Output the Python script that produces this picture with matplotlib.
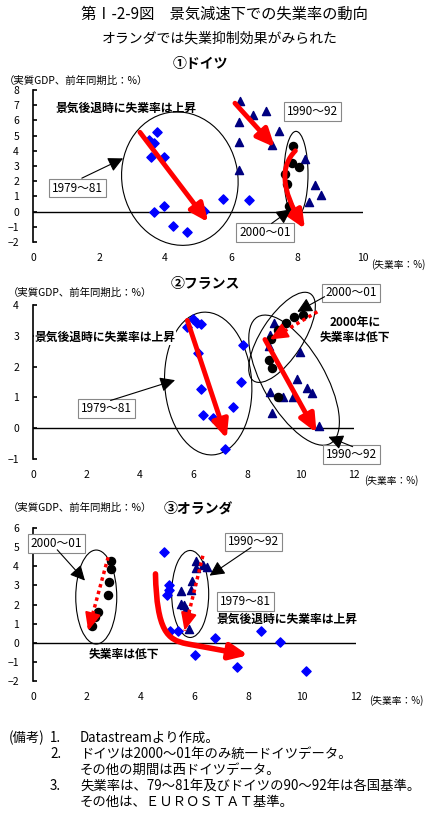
import matplotlib
matplotlib.use("Agg")
import matplotlib.pyplot as plt
from matplotlib.patches import Ellipse, FancyArrowPatch
from matplotlib.path import Path
from matplotlib.transforms import ScaledTranslation

plt.rcParams['font.family'] = ['Noto Sans CJK JP', 'DejaVu Sans']
plt.rcParams['axes.unicode_minus'] = True

# ---- data (unemployment rate %, real GDP yoy %) ----
de_7981_x = [3.76, 3.52, 3.68, 3.57, 3.97, 3.97, 3.67, 4.25, 4.68, 5.17, 5.77, 6.55]
de_7981_y = [5.22, 4.70, 4.50, 3.57, 3.57, 0.37, 0.00, -0.96, -1.36, 0.07, 0.83, 0.77]
de_9092_x = [6.27, 6.66, 7.05, 6.25, 7.44, 6.25, 7.24, 8.24, 6.25, 8.55, 8.73, 8.35]
de_9092_y = [7.26, 6.38, 6.64, 5.88, 5.33, 4.56, 4.39, 3.46, 2.74, 1.75, 1.10, 0.66]
de_0001_x = [7.87, 7.84, 8.06, 7.64, 7.69, 7.76, 7.84]
de_0001_y = [4.34, 3.18, 2.92, 2.48, 1.82, 0.40, -0.04]

fr_7981_x = [5.75, 5.97, 6.12, 6.28, 6.16, 6.27, 6.37, 6.74, 7.84, 7.76, 7.46, 7.18]
fr_7981_y = [3.27, 3.53, 3.42, 3.37, 2.45, 1.27, 0.42, 0.34, 2.70, 1.50, 0.69, -0.69]
fr_9092_x = [9.02, 8.86, 8.84, 9.98, 9.88, 10.23, 10.44, 8.86, 9.33, 9.73, 8.92, 10.70]
fr_9092_y = [3.42, 3.02, 2.66, 2.48, 1.59, 1.29, 1.13, 1.18, 1.02, 1.00, 0.48, 0.08]
fr_0001_x = [9.76, 10.10, 9.46, 9.15, 8.90, 8.84, 8.93, 9.17]
fr_0001_y = [3.61, 3.67, 3.40, 3.18, 2.88, 2.23, 1.97, 1.02]

nl_7981_x = [4.86, 5.07, 5.07, 4.99, 5.10, 5.38, 6.00, 6.78, 8.47, 9.17, 7.59, 10.16]
nl_7981_y = [4.73, 3.04, 2.76, 2.50, 0.59, 0.59, -0.63, 0.25, 0.59, 0.05, -1.26, -1.47]
nl_9092_x = [6.06, 6.06, 6.33, 6.45, 5.91, 5.88, 5.51, 5.51, 5.69, 5.62, 5.81]
nl_9092_y = [4.29, 3.91, 4.08, 3.95, 3.21, 2.76, 2.72, 2.02, 1.76, 1.95, 0.72]
nl_0001_x = [2.88, 2.91, 2.83, 2.79, 2.43, 2.30, 2.21]
nl_0001_y = [4.26, 3.86, 3.19, 2.51, 1.60, 1.33, 0.86]

W, H = 435, 813
fig = plt.figure(figsize=(W / 100, H / 100), dpi=100)


def fx(px):
    return px / W


def fy(py):
    return 1 - py / H


def make_axes(left, right, top, bottom, xmax, ylo, yhi):
    ax = fig.add_axes([fx(left), fy(bottom), (right - left) / W, (bottom - top) / H])
    ax.set_xlim(0, xmax)
    ax.set_ylim(ylo, yhi)
    ax.set_xticks(range(0, xmax + 1, 2))
    ax.set_yticks(range(ylo, yhi + 1))
    for s in ['top', 'right', 'bottom']:
        ax.spines[s].set_visible(False)
    ax.spines['left'].set_linewidth(1.2)
    ax.tick_params(axis='y', direction='in', length=3, width=1.2, pad=10, labelsize=7.5)
    ax.tick_params(axis='x', length=0, pad=8, labelsize=7.5)
    ax.axhline(0, color='black', lw=1.0, zorder=1)
    ax.patch.set_alpha(0)
    return ax


def points(ax, x, y, kind):
    if kind == 'd':
        ax.scatter(x, y, marker='D', s=22, color='#0000FF', zorder=3, clip_on=False)
    elif kind == 't':
        ax.scatter(x, y, marker='^', s=34, color='#000080', zorder=3, clip_on=False)
    else:
        ax.scatter(x, y, marker='o', s=34, color='black', zorder=3, clip_on=False)


def ring(ax, cx, cy, w, h, ang=0):
    tr = fig.dpi_scale_trans + ScaledTranslation(cx, cy, ax.transData)
    e = Ellipse((0, 0), w / 100, h / 100, angle=ang, transform=tr,
                fill=False, ec='black', lw=0.8, clip_on=False, zorder=2)
    ax.add_patch(e)


def red_arrow(ax, start, end, lw=3.5):
    ax.annotate('', xy=end, xytext=start, annotation_clip=False,
                arrowprops=dict(arrowstyle='-|>,head_length=0.9,head_width=0.4',
                                color='red', lw=lw, mutation_scale=12,
                                shrinkA=0, shrinkB=0), zorder=5)


def red_dotted(ax, start, end):
    ax.plot([start[0], end[0]], [start[1], end[1]], color='red', lw=2.5,
            linestyle=(0, (1, 1)), zorder=5, clip_on=False)
    mid = (end[0] + (start[0] - end[0]) * 0.12, end[1] + (start[1] - end[1]) * 0.12)
    ax.annotate('', xy=end, xytext=mid, annotation_clip=False,
                arrowprops=dict(arrowstyle='-|>,head_length=0.9,head_width=0.4',
                                color='red', lw=1.5, mutation_scale=12,
                                shrinkA=0, shrinkB=0), zorder=5)


def red_path(ax, verts, codes, lw=3.5):
    p = FancyArrowPatch(path=Path(verts, codes),
                        arrowstyle='-|>,head_length=0.9,head_width=0.4',
                        color='red', lw=lw, mutation_scale=12, zorder=5, clip_on=False)
    ax.add_patch(p)


def label_box(ax, x, y, text):
    ax.text(x, y, text, ha='center', va='center', fontsize=8.5, zorder=6,
            bbox=dict(boxstyle='square,pad=0.25', fc='white', ec='#888888', lw=0.8))


def black_arrow(ax, start, end):
    ax.annotate('', xy=end, xytext=start, annotation_clip=False,
                arrowprops=dict(arrowstyle='-|>,head_length=0.9,head_width=0.45',
                                color='black', lw=0.8, mutation_scale=10,
                                shrinkA=0, shrinkB=0), zorder=6)


# ---- titles ----
fig.text(fx(224), fy(14), '第Ⅰ-2-9図　景気減速下での失業率の動向', ha='center', va='center', fontsize=11)
fig.text(fx(220), fy(38), 'オランダでは失業抑制効果がみられた', ha='center', va='center', fontsize=10)

# ================= Germany =================
ax1 = make_axes(33, 363, 90, 242, 10, -2, 8)
fig.text(fx(200), fy(64), '①ドイツ', ha='center', va='center', fontsize=10, weight='bold')
fig.text(fx(4), fy(81), '（実質GDP、前年同期比：%）', ha='left', va='center', fontsize=7.5)
fig.text(fx(371), fy(265), '(失業率：%)', ha='left', va='center', fontsize=7)

points(ax1, de_7981_x, de_7981_y, 'd')
points(ax1, de_9092_x, de_9092_y, 't')
points(ax1, de_0001_x, de_0001_y, 'o')
ring(ax1, 4.45, 2.17, 116, 134, 10)
ring(ax1, 7.97, 2.45, 24, 86, 0)
red_arrow(ax1, (3.24, 5.22), (5.31, -0.7))
red_arrow(ax1, (6.12, 7.13), (7.33, 4.23))
red_path(ax1, [(7.95, 4.0), (7.5, 3.0), (7.5, 1.5), (8.24, -1.14)],
         [Path.MOVETO, Path.CURVE4, Path.CURVE4, Path.CURVE4])
ax1.text(2.82, 6.78, '景気後退時に失業率は上昇', ha='center', va='center', fontsize=8.5, weight='bold')
label_box(ax1, 1.36, 1.55, '1979～81')
black_arrow(ax1, (1.48, 2.2), (2.73, 3.5))
label_box(ax1, 8.48, 6.58, '1990～92')
label_box(ax1, 7.03, -1.36, '2000～01')
black_arrow(ax1, (7.23, -0.78), (7.82, 0.15))

# ================= France =================
ax2 = make_axes(33, 354, 305, 459, 12, -1, 4)
fig.text(fx(205), fy(284), '②フランス', ha='center', va='center', fontsize=10, weight='bold')
fig.text(fx(8), fy(293), '（実質GDP、前年同期比：%）', ha='left', va='center', fontsize=7.5)
fig.text(fx(364), fy(481), '(失業率：%)', ha='left', va='center', fontsize=7)

points(ax2, fr_7981_x, fr_7981_y, 'd')
points(ax2, fr_9092_x, fr_9092_y, 't')
points(ax2, fr_0001_x, fr_0001_y, 'o')
ring(ax2, 6.55, 1.45, 87, 143, 4)
ring(ax2, 9.31, 2.95, 104, 42, 57)
ring(ax2, 9.76, 1.56, 146, 62, -60)
red_arrow(ax2, (5.77, 3.5), (7.24, -0.34))
red_arrow(ax2, (8.67, 2.88), (10.6, -0.15))
red_dotted(ax2, (10.63, 3.78), (8.86, 2.88))
ax2.text(0.07, 2.94, '景気後退時に失業率は上昇', ha='left', va='center', fontsize=8.5, weight='bold',
         zorder=4, bbox=dict(boxstyle='square,pad=0.05', fc='white', ec='none'))
ax2.text(12.04, 3.2, '2000年に\n失業率は低下', ha='center', va='center', fontsize=8.5,
         weight='bold', linespacing=1.2)
label_box(ax2, 11.89, 4.39, '2000～01')
black_arrow(ax2, (10.9, 4.27), (9.88, 3.78))
label_box(ax2, 11.89, -0.84, '1990～92')
black_arrow(ax2, (11.95, -0.6), (11.04, -0.28))
label_box(ax2, 2.74, 0.64, '1979～81')
black_arrow(ax2, (2.9, 0.9), (5.31, 1.56))

# ================= Netherlands =================
ax3 = make_axes(33, 356, 528, 681, 12, -2, 6)
fig.text(fx(198), fy(508), '③オランダ', ha='center', va='center', fontsize=10, weight='bold')
fig.text(fx(8), fy(508), '（実質GDP、前年同期比：%）', ha='left', va='center', fontsize=7.5)
fig.text(fx(369), fy(701), '(失業率：%)', ha='left', va='center', fontsize=7)

points(ax3, nl_7981_x, nl_7981_y, 'd')
points(ax3, nl_9092_x, nl_9092_y, 't')
points(ax3, nl_0001_x, nl_0001_y, 'o')
ring(ax3, 2.35, 2.39, 41, 94, 0)
ring(ax3, 5.84, 2.55, 37, 87, 0)
red_dotted(ax3, (2.79, 4.47), (2.05, 0.63))
red_dotted(ax3, (6.31, 4.55), (5.63, 0.63))
red_path(ax3, [(4.55, 3.6), (4.6, 0.6), (5.0, 0.15), (5.7, -0.05), (8.0, -0.65)],
         [Path.MOVETO, Path.CURVE4, Path.CURVE4, Path.CURVE4, Path.LINETO], lw=4)
label_box(ax3, 0.88, 5.17, '2000～01')
black_arrow(ax3, (0.9, 4.86), (1.93, 3.25))
label_box(ax3, 8.21, 5.27, '1990～92')
black_arrow(ax3, (8.1, 4.98), (6.56, 3.51))
label_box(ax3, 7.88, 2.16, '1979～81')
ax3.text(9.44, 1.2, '景気後退時に失業率は上昇', ha='center', va='center', fontsize=8.5, weight='bold')
ax3.text(3.37, -0.59, '失業率は低下', ha='center', va='center', fontsize=8.5, weight='bold')

# ---- notes ----
fs = 9.6
fig.text(fx(9), fy(738), '(備考)', ha='left', va='center', fontsize=fs)
fig.text(fx(50), fy(738), '1.', ha='left', va='center', fontsize=fs)
fig.text(fx(80), fy(738), 'Datastreamより作成。', ha='left', va='center', fontsize=fs)
fig.text(fx(50), fy(754), '2.', ha='left', va='center', fontsize=fs)
fig.text(fx(80), fy(754), 'ドイツは2000～01年のみ統一ドイツデータ。', ha='left', va='center', fontsize=fs)
fig.text(fx(80), fy(770), 'その他の期間は西ドイツデータ。', ha='left', va='center', fontsize=fs)
fig.text(fx(50), fy(786), '3.', ha='left', va='center', fontsize=fs)
fig.text(fx(80), fy(786), '失業率は、79～81年及びドイツの90～92年は各国基準。', ha='left', va='center', fontsize=fs)
fig.text(fx(80), fy(802), 'その他は、ＥＵＲＯＳＴＡＴ基準。', ha='left', va='center', fontsize=fs)

fig.savefig('out.png', dpi=100)
